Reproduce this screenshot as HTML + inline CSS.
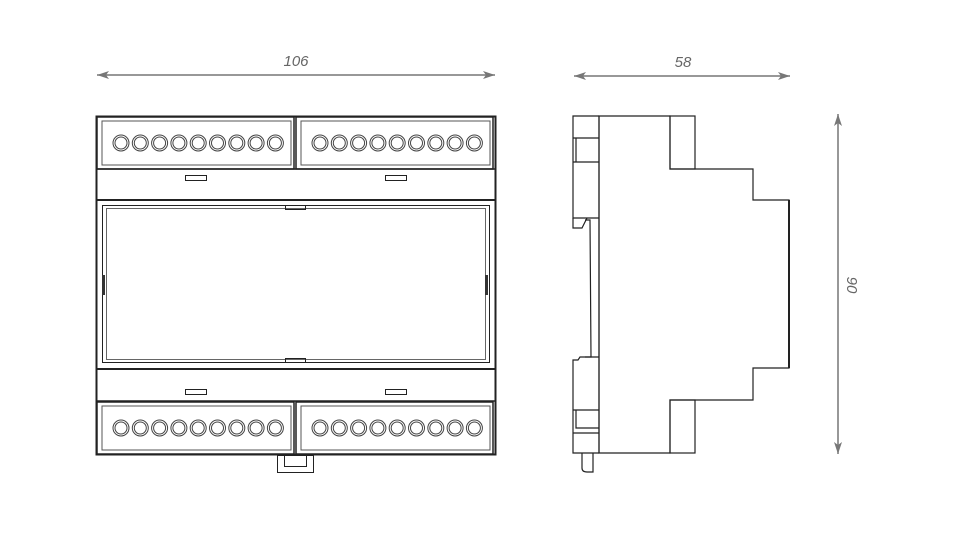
<!DOCTYPE html>
<html><head><style>html,body{margin:0;padding:0;background:#fff}svg{display:block}</style></head>
<body>
<svg width="960" height="534" viewBox="0 0 960 534" xmlns="http://www.w3.org/2000/svg">
<defs>
<marker id="ar" viewBox="0 0 12 8" refX="12" refY="4" markerWidth="12" markerHeight="8" orient="auto-start-reverse" markerUnits="userSpaceOnUse"><path d="M0,0 L12,4 L0,8 L3,4 Z" fill="#777"/></marker>
<g id="term">
<rect x="0" y="0" width="197" height="52" fill="none" stroke="#222" stroke-width="1.5"/>
<rect x="5" y="4" width="189" height="44" fill="none" stroke="#555" stroke-width="1"/>
<g fill="none" stroke="#444" stroke-width="1">
<circle cx="24" cy="26" r="8"/><circle cx="24" cy="26" r="6"/>
<circle cx="43.3" cy="26" r="8"/><circle cx="43.3" cy="26" r="6"/>
<circle cx="62.6" cy="26" r="8"/><circle cx="62.6" cy="26" r="6"/>
<circle cx="81.9" cy="26" r="8"/><circle cx="81.9" cy="26" r="6"/>
<circle cx="101.2" cy="26" r="8"/><circle cx="101.2" cy="26" r="6"/>
<circle cx="120.5" cy="26" r="8"/><circle cx="120.5" cy="26" r="6"/>
<circle cx="139.8" cy="26" r="8"/><circle cx="139.8" cy="26" r="6"/>
<circle cx="159.1" cy="26" r="8"/><circle cx="159.1" cy="26" r="6"/>
<circle cx="178.4" cy="26" r="8"/><circle cx="178.4" cy="26" r="6"/>
</g>
</g>
</defs>
<g font-family="Liberation Sans, sans-serif" font-style="italic" font-size="15" fill="#666" text-anchor="middle">
<text x="296" y="66">106</text>
<text x="683" y="67">58</text>
<text x="0" y="0" transform="translate(847,285) rotate(90)">90</text>
</g>
<g stroke="#777" stroke-width="1.5">
<line x1="97" y1="75" x2="495" y2="75" marker-start="url(#ar)" marker-end="url(#ar)"/>
<line x1="574" y1="76" x2="790" y2="76" marker-start="url(#ar)" marker-end="url(#ar)"/>
<line x1="838" y1="114" x2="838" y2="454" marker-start="url(#ar)" marker-end="url(#ar)"/>
</g>
<!-- front view -->
<g fill="none" stroke="#222">
<rect x="96.5" y="116.5" width="399" height="338" stroke-width="2"/>
<use href="#term" x="97" y="117"/>
<use href="#term" x="296" y="117"/>
<use href="#term" x="97" y="402"/>
<use href="#term" x="296" y="402"/>
<line x1="97" y1="169" x2="495" y2="169" stroke-width="1.5"/>
<line x1="97" y1="200" x2="495" y2="200" stroke-width="2"/>
<line x1="97" y1="369" x2="495" y2="369" stroke-width="2"/>
<line x1="97" y1="401" x2="495" y2="401" stroke-width="1.5"/>
<rect x="102.5" y="205.5" width="387" height="157" stroke-width="1"/>
<rect x="106.5" y="208.5" width="379" height="151" stroke="#666" stroke-width="1"/>
<rect x="285.5" y="205.5" width="20" height="4" stroke-width="1"/>
<rect x="285.5" y="358.5" width="20" height="4" stroke-width="1"/>
<rect x="102" y="275" width="3" height="20" fill="#333" stroke="none"/>
<rect x="485" y="275" width="3" height="20" fill="#333" stroke="none"/>
<rect x="185.5" y="175.5" width="21" height="5" stroke-width="1"/>
<rect x="385.5" y="175.5" width="21" height="5" stroke-width="1"/>
<rect x="185.5" y="389.5" width="21" height="5" stroke-width="1"/>
<rect x="385.5" y="389.5" width="21" height="5" stroke-width="1"/>
<rect x="277.5" y="455.5" width="36" height="17" stroke-width="1"/>
<rect x="284.5" y="455.5" width="22" height="11" stroke-width="1"/>
</g>
<!-- side view -->
<g fill="none" stroke="#222" stroke-width="1.2">
<path d="M599,116 L670,116 L670,169 L753,169 L753,200 L789,200 L789,368 L753,368 L753,400 L670,400 L670,453 L599,453 Z"/>
<rect x="670" y="116" width="25" height="53"/>
<rect x="670" y="400" width="25" height="53"/>
<line x1="599" y1="116" x2="599" y2="453"/>
<line x1="789" y1="200" x2="789" y2="368" stroke-width="2"/>
<path d="M599,116 L573,116 L573,218 L599,218"/>
<path d="M573,138 L599,138 M576,138 L576,162 L599,162 M573,162 L599,162"/>
<path d="M573,218 L573,228 L582,228 L587,218 M585,220 L590,220 L591,357 L585,357"/>
<path d="M599,357 L580,357 L578,360 L573,360 L573,453 L599,453"/>
<path d="M573,410 L599,410 M576,410 L576,428 L599,428 M573,433 L599,433"/>
<path d="M582,453 L582,468 Q582,472 587,472 L593,472 L593,453"/>
</g>
</svg>
</body></html>
